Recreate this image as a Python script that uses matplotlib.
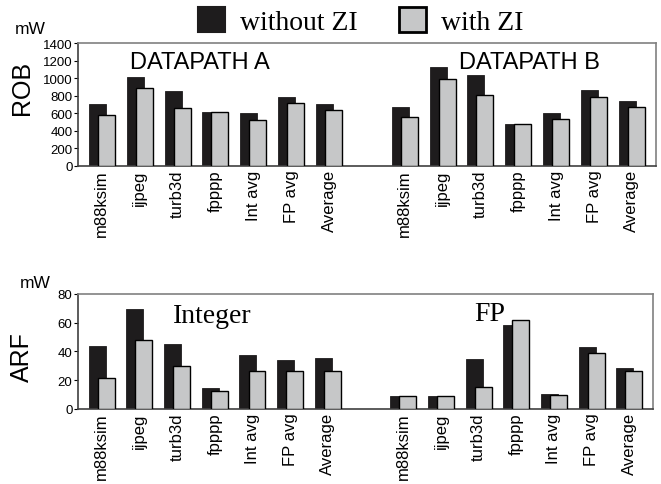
import numpy as np
import matplotlib
matplotlib.use("Agg")
import matplotlib.pyplot as plt
from matplotlib.patches import Patch

# Datos
benchmarks = ['m88ksim', 'ijpeg', 'turb3d', 'fpppp', 'Int avg', 'FP avg', 'Average']

rob_a_sin = [706, 1013, 854, 611, 603, 789, 706]
rob_a_con = [577, 891, 657, 611, 520, 713, 634]
rob_b_sin = [672, 1127, 1036, 478, 607, 865, 743]
rob_b_con = [558, 987, 804, 478, 531, 782, 668]

arf_int_sin = [43.6, 69.4, 45.0, 14.5, 37.3, 33.9, 35.3]
arf_int_con = [21.2, 48.2, 29.5, 12.2, 26.0, 26.0, 26.0]
arf_fp_sin = [9.0, 9.0, 34.6, 58.3, 10.1, 42.9, 28.4]
arf_fp_con = [9.0, 9.0, 15.0, 62.0, 9.5, 39.2, 26.0]

sans = 'Liberation Sans'
serif = 'Liberation Serif'

negro = '#1e1c1d'
gris = '#c6c7c8'

fig = plt.figure(figsize=(6.61, 4.85), dpi=100)
ax1 = fig.add_axes([0.118, 0.656, 0.874, 0.253])
ax2 = fig.add_axes([0.118, 0.155, 0.870, 0.237])

pos = np.r_[np.arange(7), np.arange(8, 15)]
w = 0.45
d = 0.12


def dibujar(ax, sin, con, ymax, yticks):
    ax.bar(pos - d, sin, width=w, color=negro, edgecolor=negro, linewidth=0.6, zorder=2)
    ax.bar(pos + d, con, width=w, color=gris, edgecolor='black', linewidth=1.0, zorder=3)
    ax.set_xlim(-0.63, 14.63)
    ax.set_ylim(0, ymax)
    ax.set_yticks(yticks)
    ax.set_xticks(pos)
    ax.set_xticklabels(benchmarks * 2, rotation=90, family=sans, fontsize=12)
    for lab in ax.get_yticklabels():
        lab.set_family(sans)
        lab.set_fontsize(9.5)
    ax.tick_params(axis='x', length=0, pad=2.5)
    ax.tick_params(axis='y', length=3, width=0.8, pad=1)
    for s in ['top', 'right']:
        ax.spines[s].set_color('#808080')
        ax.spines[s].set_linewidth(1.2)
    for s in ['left', 'bottom']:
        ax.spines[s].set_color('#404040')
        ax.spines[s].set_linewidth(1.2)


dibujar(ax1, rob_a_sin + rob_b_sin, rob_a_con + rob_b_con, 1400, range(0, 1401, 200))
dibujar(ax2, arf_int_sin + arf_fp_sin, arf_int_con + arf_fp_con, 80, range(0, 81, 20))

ax1.text(2.6, 1190, 'DATAPATH A', family=sans, fontsize=17, ha='center', va='center')
ax1.text(11.3, 1190, 'DATAPATH B', family=sans, fontsize=17, ha='center', va='center')
ax2.text(2.93, 65, 'Integer', family=serif, fontsize=20, ha='center', va='center')
ax2.text(10.3, 66, 'FP', family=serif, fontsize=20, ha='center', va='center')

fig.text(22 / 661, 1 - 88 / 485, 'ROB', family=sans, fontsize=18, rotation=90, ha='center', va='center')
fig.text(22 / 661, 1 - 357 / 485, 'ARF', family=sans, fontsize=18, rotation=90, ha='center', va='center')
fig.text(30 / 661, 1 - 30 / 485, 'mW', family=sans, fontsize=12.5, ha='center', va='center')
fig.text(35 / 661, 1 - 283 / 485, 'mW', family=sans, fontsize=12.5, ha='center', va='center')

manijas = [Patch(facecolor=negro, edgecolor=negro, linewidth=1.5),
           Patch(facecolor=gris, edgecolor='black', linewidth=2)]
fig.legend(manijas, ['without ZI', 'with ZI'], loc='center', bbox_to_anchor=(0.546, 1 - 22 / 485),
           ncol=2, frameon=False, prop={'family': serif, 'size': 20},
           handlelength=0.95, handleheight=1.0, handletextpad=0.55, columnspacing=1.5,
           borderpad=0, borderaxespad=0)

fig.savefig('out.png', dpi=100)
